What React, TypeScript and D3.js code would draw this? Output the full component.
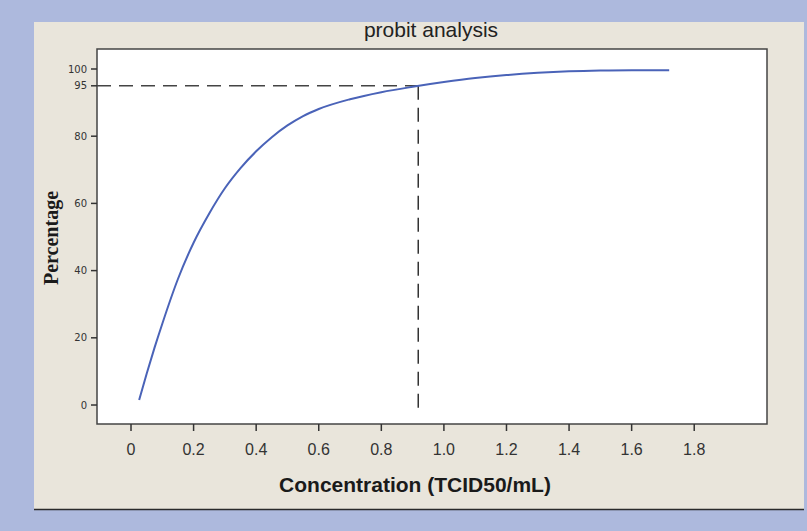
import React from "react";
import * as d3 from "d3";

const W = 807;
const H = 531;

// curve: concentration (TCID50/mL) vs percentage
const concentration = [0.026, 0.05, 0.075, 0.1, 0.15, 0.2, 0.25, 0.3, 0.35, 0.4, 0.45, 0.5, 0.55, 0.6, 0.7, 0.8, 0.9, 1.0, 1.1, 1.2, 1.3, 1.4, 1.5, 1.6, 1.72];
const percentage = [1.5, 9.3, 17.0, 24.2, 37.5, 48.3, 57.0, 64.5, 70.5, 75.5, 79.7, 83.2, 86.0, 88.1, 91.0, 93.1, 94.7, 96.1, 97.3, 98.2, 98.85, 99.3, 99.55, 99.65, 99.6];

const xTicks = [0, 0.2, 0.4, 0.6, 0.8, 1.0, 1.2, 1.4, 1.6, 1.8];
const xTickLabels = ["0", "0.2", "0.4", "0.6", "0.8", "1.0", "1.2", "1.4", "1.6", "1.8"];
const yTicks = [0, 20, 40, 60, 80, 95, 100];

const refX = 0.918; // concentration at 95%
const refY = 95;
const refYBottom = -2;

const title = "probit analysis";
const xTitle = "Concentration (TCID50/mL)";
const yTitle = "Percentage";

export default function App() {
  const left = 97, right = 767, top = 49, bottom = 424;
  const x = d3.scaleLinear().domain([-0.1087, 2.0326]).range([left, right]);
  const y = d3.scaleLinear().domain([-5.65, 105.95]).range([bottom, top]);

  const pts = concentration.map((c, i) => [c, percentage[i]] as [number, number]);
  const line = d3
    .line<[number, number]>()
    .x((d) => x(d[0]))
    .y((d) => y(d[1]))
    .curve(d3.curveMonotoneX);

  return (
    <svg
      width={W}
      height={H}
      style={{ position: "absolute", left: 0, top: 0 }}
      xmlns="http://www.w3.org/2000/svg"
    >
      <rect x={0} y={0} width={W} height={H} fill="#adb9dd" />
      <rect x={34} y={22} width={770} height={488} fill="#e9e5db" />
      <line x1={34} x2={804} y1={509.5} y2={509.5} stroke="#2a2a2a" strokeWidth={1.5} />

      <text
        x={431}
        y={37}
        textAnchor="middle"
        fontFamily="Liberation Sans, Arial, sans-serif"
        fontSize={21}
        fill="#222"
      >
        {title}
      </text>

      <rect x={left} y={top} width={right - left} height={bottom - top} fill="#ffffff" stroke="#444" strokeWidth={1.5} />

      {/* y ticks */}
      {yTicks.map((t) => (
        <g key={"y" + t}>
          <line x1={left - 6} x2={left} y1={y(t)} y2={y(t)} stroke="#333" strokeWidth={1.5} />
          <text
            x={87}
            y={y(t)}
            dy="0.36em"
            textAnchor="end"
            fontFamily="DejaVu Sans, sans-serif"
            fontSize={10}
            fill="#333"
          >
            {t}
          </text>
        </g>
      ))}

      {/* x ticks */}
      {xTicks.map((t, i) => (
        <g key={"x" + t}>
          <line x1={x(t)} x2={x(t)} y1={bottom} y2={bottom + 7} stroke="#333" strokeWidth={1.5} />
          <text
            x={x(t)}
            y={455}
            textAnchor="middle"
            fontFamily="Liberation Sans, Arial, sans-serif"
            fontSize={16}
            fill="#333"
          >
            {xTickLabels[i]}
          </text>
        </g>
      ))}

      {/* reference dashed lines */}
      <line
        x1={left}
        x2={x(refX)}
        y1={y(refY)}
        y2={y(refY)}
        stroke="#444"
        strokeWidth={1.5}
        strokeDasharray="14,8"
      />
      <line
        x1={x(refX)}
        x2={x(refX)}
        y1={y(refY)}
        y2={y(refYBottom)}
        stroke="#333"
        strokeWidth={1.5}
        strokeDasharray="14,8"
      />

      <path d={line(pts) || ""} fill="none" stroke="#4a63b8" strokeWidth={2} />

      <text
        x={415}
        y={492}
        textAnchor="middle"
        fontFamily="Liberation Sans, Arial, sans-serif"
        fontWeight="bold"
        fontSize={21}
        fill="#1a1a1a"
      >
        {xTitle}
      </text>
      <text
        transform={`translate(58,238) rotate(-90)`}
        textAnchor="middle"
        fontFamily="Liberation Serif, Times New Roman, serif"
        fontWeight="bold"
        fontSize={20}
        fill="#1a1a1a"
      >
        {yTitle}
      </text>
    </svg>
  );
}
